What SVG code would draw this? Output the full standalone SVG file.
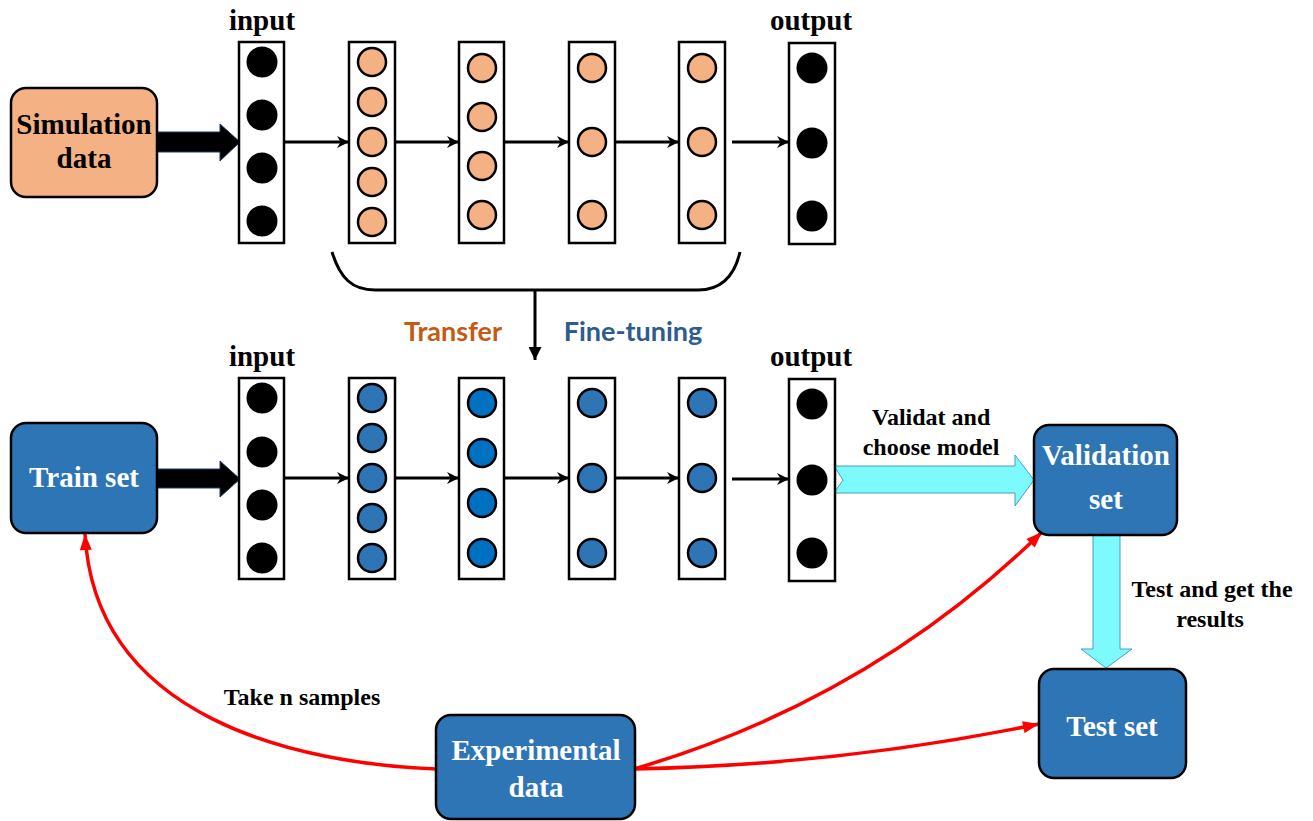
<svg xmlns="http://www.w3.org/2000/svg" width="1313" height="821" viewBox="0 0 1313 821">
<defs>
<marker id="ah" viewBox="0 0 10 10" refX="10" refY="5" markerWidth="12" markerHeight="12" markerUnits="userSpaceOnUse" orient="auto">
<path d="M0,0 L10,5 L0,10 L3,5 z" fill="#000"/>
</marker>
<marker id="ahd" viewBox="0 0 12 12" refX="12" refY="6" markerWidth="13" markerHeight="13" markerUnits="userSpaceOnUse" orient="auto">
<path d="M0,0 L12,6 L0,12 z" fill="#000"/>
</marker>
<marker id="ar" viewBox="0 0 16 12" refX="16" refY="6" markerWidth="17" markerHeight="12" markerUnits="userSpaceOnUse" orient="auto">
<path d="M0,0 L16,6 L0,12 z" fill="#FF0000"/>
</marker>
</defs>
<style>
.col{fill:#fff;stroke:#000;stroke-width:2.5}
.blk{fill:#000}
.or{fill:#F4B183;stroke:#000;stroke-width:2.5}
.bl{fill:#2E75B6;stroke:#000;stroke-width:2.5}
.bl2{fill:#0070C0;stroke:#000;stroke-width:2.5}
.box-o{fill:#F4B183;stroke:#000;stroke-width:2.5}
.box-b{fill:#2E75B6;stroke:#000;stroke-width:2.5}
.t{font-family:"Liberation Serif","Times New Roman",serif;font-weight:bold;text-anchor:middle}
.big{font-size:29px}
.lbl{font-size:24px;fill:#000}
.wh{fill:#fff}
.ln{stroke:#000;stroke-width:3;fill:none}
.red{stroke:#FF0000;stroke-width:3.5;fill:none}
.cy{fill:#7CFAFC;stroke:#4A9CC8;stroke-width:1}
.fat{fill:#000;stroke:#1F3864;stroke-width:1}
.cal{font-family:Lato,"Open Sans","Liberation Sans",sans-serif;font-weight:bold;font-size:27px;text-anchor:middle}
</style>

<g id="connectors">
<polygon class="fat" points="157,132 220,132 220,124 240,142 220,161 220,152 157,152"/>
<polygon class="fat" points="157,469 220,469 220,461 240,479 220,497 220,488 157,488"/>
<line class="ln" x1="285" y1="142" x2="349" y2="142" marker-end="url(#ah)"/>
<line class="ln" x1="395" y1="142" x2="459" y2="142" marker-end="url(#ah)"/>
<line class="ln" x1="504" y1="142" x2="569" y2="142" marker-end="url(#ah)"/>
<line class="ln" x1="615" y1="142" x2="679" y2="142" marker-end="url(#ah)"/>
<line class="ln" x1="732" y1="142" x2="789" y2="142" marker-end="url(#ah)"/>
<line class="ln" x1="285" y1="478" x2="349" y2="478" marker-end="url(#ah)"/>
<line class="ln" x1="395" y1="478" x2="459" y2="478" marker-end="url(#ah)"/>
<line class="ln" x1="504" y1="478" x2="569" y2="478" marker-end="url(#ah)"/>
<line class="ln" x1="615" y1="478" x2="679" y2="478" marker-end="url(#ah)"/>
<line class="ln" x1="732" y1="479" x2="789" y2="479" marker-end="url(#ah)"/>
<path class="ln" d="M332,252 C340,278 352,290 375,290 L698,290 C720,290 734,278 740,252"/>
<line class="ln" x1="535" y1="290" x2="535" y2="360" marker-end="url(#ahd)"/>
<polygon class="cy" points="834,466 1015,466 1015,455 1034,480 1015,506 1015,493 834,493 843,480"/>
<polygon class="cy" points="1093,527 1106,535 1120,527 1120,649 1132,649 1106,668 1081,649 1093,649"/>
<path class="red" d="M437,769 C300,764 95,720 85,534" marker-end="url(#ar)"/>
<path class="red" d="M634,769 Q870,700 1042,532" marker-end="url(#ar)"/>
<path class="red" d="M634,769 Q840,765 1039,724" marker-end="url(#ar)"/>
</g>

<g id="sim-data">
<rect class="box-o" x="11" y="88" width="146" height="109" rx="15"/>
<text class="t big" x="84" y="134">Simulation</text>
<text class="t big" x="84" y="168">data</text>
</g>

<g id="top-input">
<text class="t big" x="262" y="30">input</text>
<rect class="col" x="239" y="42" width="45" height="201"/>
<circle class="blk" cx="262" cy="62" r="15.5"/>
<circle class="blk" cx="262" cy="115" r="15.5"/>
<circle class="blk" cx="262" cy="168" r="15.5"/>
<circle class="blk" cx="262" cy="221" r="15.5"/>
</g>
<g id="top-h1">
<rect class="col" x="349" y="42" width="46" height="201"/>
<circle class="or" cx="372" cy="62" r="14"/>
<circle class="or" cx="372" cy="102" r="14"/>
<circle class="or" cx="372" cy="142" r="14"/>
<circle class="or" cx="372" cy="182" r="14"/>
<circle class="or" cx="372" cy="222" r="14"/>
</g>
<g id="top-h2">
<rect class="col" x="459" y="42" width="45" height="201"/>
<circle class="or" cx="482" cy="68" r="14"/>
<circle class="or" cx="482" cy="117" r="14"/>
<circle class="or" cx="482" cy="166" r="14"/>
<circle class="or" cx="482" cy="215" r="14"/>
</g>
<g id="top-h3">
<rect class="col" x="569" y="42" width="46" height="201"/>
<circle class="or" cx="592" cy="68" r="14"/>
<circle class="or" cx="592" cy="142" r="14"/>
<circle class="or" cx="592" cy="215" r="14"/>
</g>
<g id="top-h4">
<rect class="col" x="679" y="42" width="46" height="201"/>
<circle class="or" cx="702" cy="68" r="14"/>
<circle class="or" cx="702" cy="142" r="14"/>
<circle class="or" cx="702" cy="215" r="14"/>
</g>
<g id="top-output">
<text class="t big" x="811" y="30">output</text>
<rect class="col" x="789" y="43" width="46" height="201"/>
<circle class="blk" cx="812" cy="68" r="15.5"/>
<circle class="blk" cx="812" cy="143" r="15.5"/>
<circle class="blk" cx="812" cy="216" r="15.5"/>
</g>

<g id="transfer-labels">
<text class="cal" x="453" y="341" fill="#C55A11">Transfer</text>
<text class="cal" x="633" y="341" fill="#2E5C8E">Fine-tuning</text>
</g>

<g id="train-set">
<rect class="box-b" x="11" y="423" width="146" height="110" rx="15"/>
<text class="t big wh" x="84" y="487">Train set</text>
</g>

<g id="bot-input">
<text class="t big" x="262" y="366">input</text>
<rect class="col" x="239" y="378" width="45" height="201"/>
<circle class="blk" cx="262" cy="398" r="15.5"/>
<circle class="blk" cx="262" cy="452" r="15.5"/>
<circle class="blk" cx="262" cy="505" r="15.5"/>
<circle class="blk" cx="262" cy="558" r="15.5"/>
</g>
<g id="bot-h1">
<rect class="col" x="349" y="378" width="46" height="201"/>
<circle class="bl" cx="372" cy="398" r="14"/>
<circle class="bl" cx="372" cy="438" r="14"/>
<circle class="bl" cx="372" cy="478" r="14"/>
<circle class="bl" cx="372" cy="518" r="14"/>
<circle class="bl" cx="372" cy="558" r="14"/>
</g>
<g id="bot-h2">
<rect class="col" x="459" y="378" width="45" height="201"/>
<circle class="bl2" cx="482" cy="403" r="14"/>
<circle class="bl2" cx="482" cy="453" r="14"/>
<circle class="bl2" cx="482" cy="503" r="14"/>
<circle class="bl2" cx="482" cy="553" r="14"/>
</g>
<g id="bot-h3">
<rect class="col" x="569" y="378" width="46" height="201"/>
<circle class="bl" cx="592" cy="403" r="14"/>
<circle class="bl" cx="592" cy="478" r="14"/>
<circle class="bl" cx="592" cy="553" r="14"/>
</g>
<g id="bot-h4">
<rect class="col" x="679" y="378" width="46" height="201"/>
<circle class="bl" cx="702" cy="403" r="14"/>
<circle class="bl" cx="702" cy="478" r="14"/>
<circle class="bl" cx="702" cy="553" r="14"/>
</g>
<g id="bot-output">
<text class="t big" x="811" y="366">output</text>
<rect class="col" x="789" y="379" width="46" height="202"/>
<circle class="blk" cx="812" cy="404" r="15.5"/>
<circle class="blk" cx="812" cy="480" r="15.5"/>
<circle class="blk" cx="812" cy="553" r="15.5"/>
</g>

<g id="validation-set">
<rect class="box-b" x="1034" y="425" width="143" height="110" rx="15"/>
<text class="t big wh" x="1106" y="465">Validation</text>
<text class="t big wh" x="1106" y="509">set</text>
</g>
<g id="test-set">
<rect class="box-b" x="1039" y="669" width="147" height="109" rx="15"/>
<text class="t big wh" x="1112" y="736">Test set</text>
</g>
<g id="experimental-data">
<rect class="box-b" x="436" y="715" width="199" height="104" rx="15"/>
<text class="t big wh" x="536" y="760">Experimental</text>
<text class="t big wh" x="536" y="797">data</text>
</g>

<g id="edge-labels">
<text class="t lbl" x="931" y="425">Validat and</text>
<text class="t lbl" x="931" y="455">choose model</text>
<text class="t lbl" x="1212" y="597">Test and get the</text>
<text class="t lbl" x="1210" y="627">results</text>
<text class="t lbl" x="302" y="705">Take n samples</text>
</g>
</svg>
